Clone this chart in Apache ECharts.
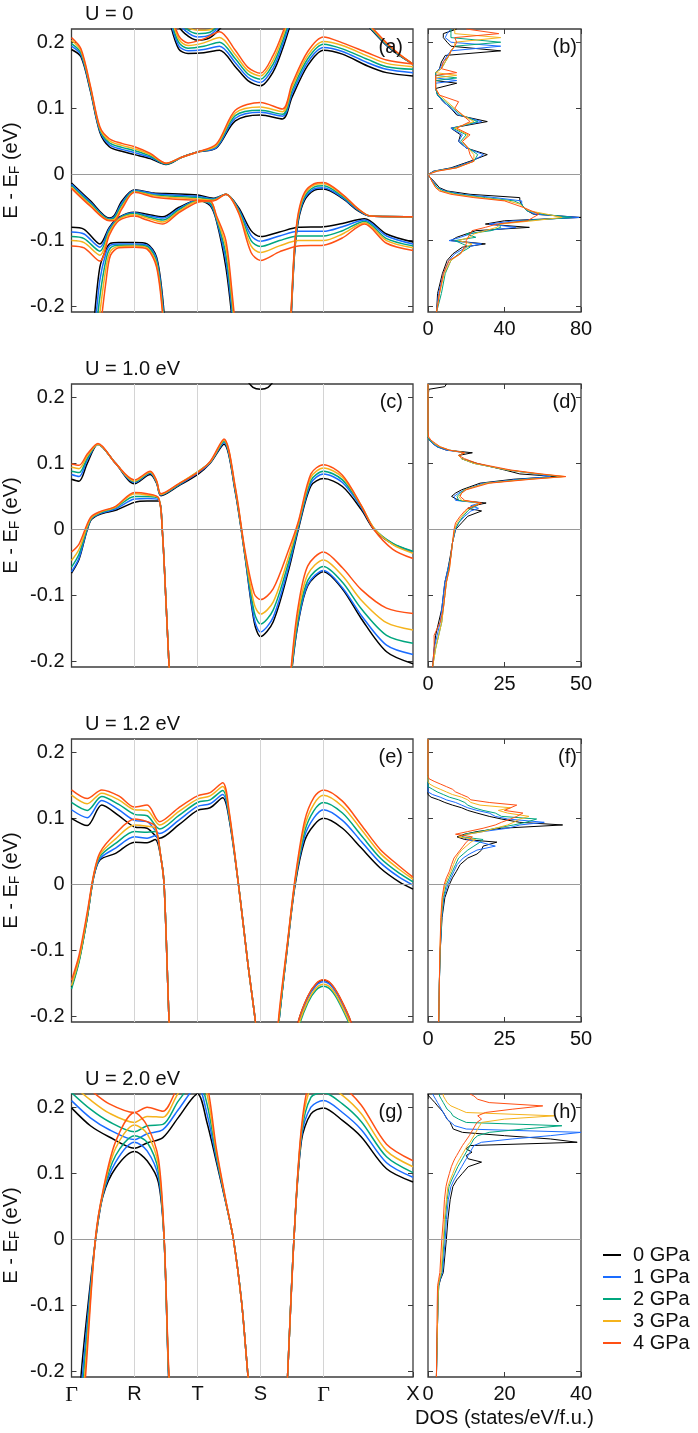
<!DOCTYPE html>
<html>
<head>
<meta charset="utf-8">
<script src="https://cdn.jsdelivr.net/npm/echarts@6/dist/echarts.min.js"></script>
<style>
html, body { margin: 0; padding: 0; background: #fff; }
#chart { width: 698px; height: 1433px; }
</style>
</head>
<body>
<div id="chart"></div>
<script>
// pressures / colours
const pressures = ['0 GPa', '1 GPa', '2 GPa', '3 GPa', '4 GPa']
const colors = ['#000000', '#1a6cff', '#00a67e', '#f5b31c', '#ff5014']

// k-path ticks and energy ticks
const kTicks = [0, 1, 2, 3, 4, 5.42]
const kLabels = ['Γ', 'R', 'T', 'S', 'Γ', 'X']
const eTicks = [-0.2, -0.1, 0, 0.1, 0.2]
const titles = ['U = 0', 'U = 1.0 eV', 'U = 1.2 eV', 'U = 2.0 eV']
const tags = [['(a)', '(b)'], ['(c)', '(d)'], ['(e)', '(f)'], ['(g)', '(h)']]
const dosMax = [80, 50, 50, 40]
const dosStep = [40, 25, 25, 20]

// ---- (a) U = 0 bands: each row = energies for 0..4 GPa ----
const a1_k = [0, 0.15, 0.3, 0.45, 0.6, 0.8, 1.0, 1.25, 1.5, 1.75, 2.0, 2.3, 2.6, 3.0, 3.35, 3.5, 3.75, 4.0, 4.3, 4.7, 5.0, 5.42]
const a1 = [
  [0.189, 0.194, 0.198, 0.203, 0.207], [0.178, 0.181, 0.184, 0.187, 0.190], [0.126, 0.128, 0.130, 0.132, 0.134],
  [0.064, 0.066, 0.068, 0.070, 0.072], [0.042, 0.045, 0.048, 0.051, 0.054], [0.035, 0.038, 0.041, 0.044, 0.047],
  [0.030, 0.033, 0.036, 0.039, 0.042], [0.024, 0.026, 0.028, 0.030, 0.032], [0.015, 0.016, 0.016, 0.017, 0.017],
  [0.026, 0.026, 0.026, 0.026, 0.026], [0.034, 0.034, 0.034, 0.034, 0.034], [0.040, 0.041, 0.043, 0.044, 0.046],
  [0.081, 0.085, 0.089, 0.093, 0.097], [0.090, 0.094, 0.097, 0.102, 0.109], [0.084, 0.088, 0.091, 0.095, 0.099],
  [0.117, 0.122, 0.127, 0.132, 0.137], [0.165, 0.170, 0.175, 0.180, 0.186], [0.188, 0.192, 0.197, 0.201, 0.208],
  [0.182, 0.186, 0.190, 0.195, 0.199], [0.164, 0.169, 0.174, 0.179, 0.184], [0.154, 0.159, 0.163, 0.168, 0.173],
  [0.149, 0.154, 0.159, 0.163, 0.167]
]
const a2_k = [1.55, 1.7, 1.85, 2.1, 2.35, 2.6, 2.8, 3.0, 3.2, 3.35, 3.5]
const a2 = [
  [0.235, 0.240, 0.245, 0.250, 0.255], [0.190, 0.195, 0.200, 0.205, 0.210], [0.183, 0.187, 0.191, 0.195, 0.199],
  [0.184, 0.189, 0.194, 0.199, 0.205], [0.188, 0.194, 0.200, 0.207, 0.216], [0.163, 0.169, 0.175, 0.181, 0.188],
  [0.142, 0.147, 0.152, 0.157, 0.162], [0.134, 0.139, 0.144, 0.149, 0.153], [0.155, 0.161, 0.167, 0.173, 0.180],
  [0.190, 0.196, 0.202, 0.208, 0.214], [0.235, 0.240, 0.245, 0.250, 0.255]
]
const a3_k = [1.6, 1.8, 2.0, 2.2, 2.4]
const a3 = [
  [0.235, 0.240, 0.245, 0.250, 0.255], [0.213, 0.218, 0.222, 0.226, 0.230], [0.203, 0.208, 0.213, 0.218, 0.222],
  [0.207, 0.211, 0.215, 0.219, 0.224], [0.225, 0.230, 0.235, 0.240, 0.245]
]
const a4_k = [4.6, 4.75, 5.0, 5.2, 5.42]
const a4 = [
  [0.235, 0.236, 0.237, 0.238, 0.239], [0.220, 0.221, 0.222, 0.223, 0.224], [0.195, 0.196, 0.197, 0.198, 0.199],
  [0.180, 0.181, 0.181, 0.182, 0.182], [0.167, 0.167, 0.167, 0.167, 0.167]
]
const av1_k = [0, 0.3, 0.6, 0.68, 0.8, 1.0, 1.3, 1.6, 2.0, 2.25, 2.45, 2.65, 2.85, 3.0, 3.3, 3.6, 4.0, 4.3, 4.65, 5.0, 5.42]
const av1 = [
  [-0.013, -0.015, -0.017, -0.019, -0.021], [-0.040, -0.042, -0.044, -0.046, -0.048], [-0.066, -0.067, -0.068, -0.069, -0.070],
  [-0.062, -0.064, -0.066, -0.068, -0.070], [-0.040, -0.043, -0.046, -0.049, -0.052], [-0.023, -0.024, -0.025, -0.026, -0.027],
  [-0.028, -0.029, -0.031, -0.032, -0.034], [-0.029, -0.031, -0.033, -0.035, -0.037], [-0.031, -0.033, -0.035, -0.037, -0.039],
  [-0.036, -0.037, -0.038, -0.039, -0.040], [-0.030, -0.030, -0.030, -0.030, -0.030], [-0.050, -0.052, -0.054, -0.056, -0.058],
  [-0.085, -0.092, -0.100, -0.108, -0.118], [-0.094, -0.101, -0.109, -0.118, -0.130], [-0.087, -0.093, -0.100, -0.108, -0.117],
  [-0.080, -0.086, -0.093, -0.100, -0.108], [-0.079, -0.086, -0.093, -0.100, -0.107], [-0.074, -0.079, -0.085, -0.090, -0.096],
  [-0.067, -0.069, -0.071, -0.073, -0.075], [-0.090, -0.093, -0.097, -0.100, -0.104], [-0.102, -0.105, -0.108, -0.111, -0.115]
]
const av2_k = [0, 0.2, 0.45, 0.6, 0.75, 1.0, 1.2, 1.45, 1.7, 2.0, 2.2, 2.3, 2.45, 2.55, 2.65]
const av2 = [
  [-0.080, -0.087, -0.094, -0.100, -0.108], [-0.083, -0.090, -0.097, -0.103, -0.111], [-0.105, -0.110, -0.116, -0.122, -0.131],
  [-0.080, -0.082, -0.085, -0.088, -0.092], [-0.065, -0.066, -0.067, -0.068, -0.070], [-0.057, -0.058, -0.059, -0.061, -0.063],
  [-0.060, -0.062, -0.064, -0.066, -0.069], [-0.064, -0.066, -0.069, -0.072, -0.075], [-0.050, -0.052, -0.054, -0.056, -0.058],
  [-0.039, -0.039, -0.040, -0.041, -0.042], [-0.047, -0.045, -0.043, -0.041, -0.040], [-0.070, -0.068, -0.066, -0.064, -0.062],
  [-0.140, -0.130, -0.120, -0.110, -0.100], [-0.220, -0.210, -0.200, -0.190, -0.180], [-0.320, -0.310, -0.300, -0.290, -0.280]
]
const av3_k = [0.3, 0.37, 0.45, 0.55, 0.62, 0.75, 1.0, 1.2, 1.35, 1.45, 1.52]
const av3 = [
  [-0.280, -0.310, -0.340, -0.370, -0.400], [-0.208, -0.235, -0.260, -0.285, -0.310], [-0.140, -0.160, -0.185, -0.210, -0.240],
  [-0.113, -0.118, -0.128, -0.140, -0.160], [-0.104, -0.107, -0.111, -0.116, -0.122], [-0.103, -0.105, -0.107, -0.109, -0.111],
  [-0.103, -0.105, -0.107, -0.108, -0.110], [-0.105, -0.107, -0.109, -0.111, -0.113], [-0.125, -0.128, -0.132, -0.136, -0.140],
  [-0.190, -0.197, -0.204, -0.210, -0.216], [-0.280, -0.290, -0.300, -0.310, -0.320]
]
const av4_k = [3.44, 3.49, 3.54, 3.6, 3.7, 3.85, 4.0, 4.3, 4.55, 4.75, 5.42]
const av4 = [
  [-0.300, -0.300, -0.300, -0.300, -0.300], [-0.208, -0.205, -0.203, -0.200, -0.198], [-0.120, -0.117, -0.114, -0.111, -0.108],
  [-0.070, -0.067, -0.064, -0.061, -0.058], [-0.039, -0.036, -0.033, -0.030, -0.027], [-0.024, -0.022, -0.019, -0.016, -0.014],
  [-0.022, -0.020, -0.017, -0.014, -0.012], [-0.036, -0.035, -0.033, -0.031, -0.030], [-0.055, -0.054, -0.053, -0.052, -0.052],
  [-0.063, -0.063, -0.063, -0.063, -0.063], [-0.064, -0.064, -0.064, -0.064, -0.064]
]

// ---- (c) U = 1.0 eV bands ----
const c1_k = [0, 0.12, 0.25, 0.42, 0.7, 1.0, 1.25, 1.35, 1.42, 1.7, 2.0, 2.2, 2.42, 2.6, 2.75, 2.9, 3.0, 3.2, 3.45, 3.6, 3.8, 4.0, 4.3, 4.6, 4.8, 5.1, 5.42]
const c1 = [
  [0.076, 0.083, 0.088, 0.094, 0.099], [0.073, 0.080, 0.086, 0.092, 0.097], [0.100, 0.105, 0.108, 0.111, 0.114],
  [0.129, 0.129, 0.129, 0.129, 0.130], [0.100, 0.100, 0.100, 0.100, 0.100], [0.069, 0.071, 0.072, 0.073, 0.075],
  [0.083, 0.085, 0.086, 0.087, 0.088], [0.070, 0.071, 0.072, 0.073, 0.074], [0.051, 0.052, 0.053, 0.053, 0.054],
  [0.066, 0.067, 0.068, 0.069, 0.069], [0.083, 0.085, 0.087, 0.087, 0.086], [0.100, 0.101, 0.102, 0.102, 0.103],
  [0.129, 0.131, 0.133, 0.135, 0.137], [0.056, 0.058, 0.060, 0.062, 0.064], [-0.038, -0.037, -0.035, -0.033, -0.030],
  [-0.140, -0.135, -0.125, -0.113, -0.097], [-0.162, -0.155, -0.143, -0.128, -0.106], [-0.140, -0.133, -0.122, -0.110, -0.090],
  [-0.060, -0.055, -0.048, -0.040, -0.030], [0.000, 0.003, 0.006, 0.009, 0.012], [0.066, 0.070, 0.074, 0.079, 0.084],
  [0.077, 0.084, 0.088, 0.093, 0.098], [0.065, 0.071, 0.075, 0.079, 0.082], [0.030, 0.033, 0.035, 0.036, 0.036],
  [0.000, 0.001, 0.002, 0.002, 0.000], [-0.022, -0.022, -0.021, -0.023, -0.030], [-0.034, -0.034, -0.033, -0.036, -0.044]
]
const c2_k = [0, 0.12, 0.3, 0.45, 0.7, 1.0, 1.2, 1.38, 1.44, 1.5, 1.55, 1.6]
const c2 = [
  [-0.066, -0.064, -0.057, -0.047, -0.034], [-0.045, -0.043, -0.037, -0.030, -0.022], [0.013, 0.014, 0.015, 0.016, 0.018],
  [0.023, 0.024, 0.025, 0.026, 0.027], [0.029, 0.031, 0.033, 0.034, 0.035], [0.041, 0.046, 0.050, 0.054, 0.056],
  [0.043, 0.047, 0.050, 0.052, 0.054], [0.043, 0.045, 0.047, 0.048, 0.048], [0.000, 0.000, 0.000, 0.000, 0.000],
  [-0.110, -0.110, -0.110, -0.110, -0.110], [-0.210, -0.210, -0.210, -0.210, -0.210], [-0.300, -0.300, -0.300, -0.300, -0.300]
]
const c3_k = [3.42, 3.5, 3.6, 3.75, 4.0, 4.3, 4.6, 5.0, 5.42]
const c3 = [
  [-0.300, -0.300, -0.300, -0.300, -0.300], [-0.210, -0.208, -0.205, -0.200, -0.195], [-0.140, -0.138, -0.133, -0.125, -0.115],
  [-0.085, -0.083, -0.077, -0.068, -0.055], [-0.064, -0.062, -0.056, -0.046, -0.034], [-0.090, -0.088, -0.080, -0.070, -0.058],
  [-0.135, -0.130, -0.120, -0.107, -0.091], [-0.185, -0.175, -0.160, -0.141, -0.119], [-0.203, -0.189, -0.172, -0.152, -0.127]
]
const c4_k = [2.75, 2.88, 3.0, 3.12, 3.25]
const c4 = [
  [0.230, 0.240, 0.250, 0.260, 0.270], [0.215, 0.235, 0.245, 0.255, 0.265], [0.212, 0.232, 0.242, 0.252, 0.262],
  [0.215, 0.235, 0.245, 0.255, 0.265], [0.230, 0.240, 0.250, 0.260, 0.270]
]

// ---- (e) U = 1.2 eV bands ----
const e1_k = [0, 0.25, 0.48, 0.75, 1.0, 1.2, 1.4, 1.7, 2.0, 2.2, 2.4, 2.5, 2.65, 2.8, 2.92, 3.0]
const e1 = [
  [0.100, 0.113, 0.124, 0.135, 0.143], [0.089, 0.101, 0.112, 0.122, 0.130], [0.120, 0.127, 0.133, 0.138, 0.143],
  [0.104, 0.113, 0.121, 0.128, 0.134], [0.087, 0.097, 0.106, 0.113, 0.117], [0.085, 0.095, 0.104, 0.112, 0.120],
  [0.070, 0.077, 0.084, 0.090, 0.095], [0.090, 0.097, 0.104, 0.110, 0.116], [0.112, 0.118, 0.124, 0.129, 0.134],
  [0.116, 0.122, 0.128, 0.134, 0.139], [0.131, 0.136, 0.142, 0.148, 0.154], [0.100, 0.103, 0.106, 0.109, 0.112],
  [0.000, 0.000, 0.000, 0.000, 0.000], [-0.120, -0.120, -0.120, -0.120, -0.120], [-0.208, -0.208, -0.208, -0.208, -0.208],
  [-0.280, -0.280, -0.280, -0.280, -0.280]
]
const e2_k = [0, 0.12, 0.25, 0.35, 0.45, 0.7, 1.0, 1.2, 1.33, 1.42, 1.47, 1.55, 1.6]
const e2 = [
  [-0.155, -0.152, -0.158, -0.153, -0.145], [-0.115, -0.113, -0.117, -0.113, -0.107], [-0.050, -0.048, -0.050, -0.046, -0.042],
  [0.010, 0.011, 0.012, 0.013, 0.014], [0.037, 0.039, 0.042, 0.045, 0.048], [0.047, 0.055, 0.062, 0.069, 0.077],
  [0.064, 0.072, 0.080, 0.090, 0.099], [0.063, 0.070, 0.079, 0.088, 0.095], [0.068, 0.074, 0.080, 0.085, 0.088],
  [0.040, 0.040, 0.040, 0.040, 0.040], [0.000, 0.000, 0.000, 0.000, 0.000], [-0.210, -0.210, -0.210, -0.210, -0.210],
  [-0.300, -0.300, -0.300, -0.300, -0.300]
]
const e3_k = [3.2, 3.3, 3.42, 3.55, 3.7, 3.85, 4.0, 4.3, 4.6, 4.9, 5.2, 5.42]
const e3 = [
  [-0.300, -0.300, -0.300, -0.300, -0.300], [-0.200, -0.200, -0.200, -0.195, -0.190], [-0.100, -0.099, -0.098, -0.096, -0.094],
  [0.000, 0.003, 0.005, 0.007, 0.010], [0.066, 0.073, 0.080, 0.088, 0.096], [0.090, 0.101, 0.112, 0.122, 0.132],
  [0.100, 0.113, 0.124, 0.135, 0.143], [0.085, 0.097, 0.108, 0.118, 0.126], [0.055, 0.065, 0.074, 0.083, 0.090],
  [0.025, 0.033, 0.040, 0.047, 0.053], [0.004, 0.011, 0.017, 0.023, 0.028], [-0.007, -0.001, 0.004, 0.008, 0.011]
]
const e4_k = [3.5, 3.6, 3.75, 3.88, 4.0, 4.12, 4.25, 4.44, 4.55]
const e4 = [
  [-0.260, -0.260, -0.270, -0.265, -0.260], [-0.208, -0.210, -0.218, -0.214, -0.207], [-0.170, -0.172, -0.179, -0.176, -0.169],
  [-0.151, -0.153, -0.160, -0.157, -0.150], [-0.145, -0.147, -0.154, -0.151, -0.144], [-0.151, -0.153, -0.160, -0.157, -0.150],
  [-0.170, -0.172, -0.179, -0.176, -0.169], [-0.210, -0.212, -0.219, -0.216, -0.209], [-0.260, -0.260, -0.270, -0.265, -0.260]
]

// ---- (g) U = 2.0 eV bands ----
const g1_k = [0, 0.3, 0.6, 1.0, 1.2, 1.45, 1.7, 2.0, 2.15, 2.3, 2.45, 2.57, 2.7, 2.8, 2.9]
const g1 = [
  [0.199, 0.210, 0.222, 0.235, 0.250], [0.172, 0.184, 0.197, 0.211, 0.226], [0.155, 0.166, 0.178, 0.191, 0.205],
  [0.138, 0.151, 0.163, 0.177, 0.192], [0.146, 0.160, 0.172, 0.186, 0.200], [0.154, 0.166, 0.174, 0.185, 0.194],
  [0.185, 0.197, 0.210, 0.222, 0.232], [0.220, 0.232, 0.242, 0.252, 0.262], [0.177, 0.190, 0.205, 0.220, 0.235],
  [0.117, 0.122, 0.127, 0.132, 0.137], [0.055, 0.056, 0.057, 0.058, 0.059], [0.000, 0.000, 0.000, 0.000, 0.000],
  [-0.095, -0.095, -0.095, -0.095, -0.095], [-0.205, -0.205, -0.205, -0.205, -0.205], [-0.300, -0.300, -0.300, -0.300, -0.300]
]
const g2_k = [0.1, 0.15, 0.25, 0.38, 0.5, 0.7, 1.0, 1.2, 1.38, 1.47, 1.54, 1.6]
const g2 = [
  [-0.290, -0.320, -0.350, -0.370, -0.400], [-0.208, -0.235, -0.260, -0.285, -0.310], [-0.110, -0.125, -0.140, -0.155, -0.170],
  [-0.002, -0.001, 0.000, 0.001, 0.002], [0.066, 0.068, 0.070, 0.072, 0.074], [0.108, 0.117, 0.127, 0.138, 0.148],
  [0.133, 0.147, 0.157, 0.173, 0.192], [0.119, 0.134, 0.147, 0.160, 0.172], [0.086, 0.094, 0.103, 0.112, 0.122],
  [0.000, 0.000, 0.000, 0.002, 0.004], [-0.205, -0.202, -0.199, -0.195, -0.190], [-0.300, -0.300, -0.300, -0.300, -0.300]
]
const g3_k = [3.38, 3.43, 3.53, 3.65, 3.8, 4.0, 4.3, 4.6, 5.0, 5.42]
const g3 = [
  [-0.300, -0.300, -0.300, -0.300, -0.300], [-0.205, -0.205, -0.205, -0.205, -0.205], [0.000, 0.000, 0.000, 0.000, 0.000],
  [0.150, 0.155, 0.160, 0.165, 0.170], [0.190, 0.200, 0.215, 0.230, 0.245], [0.199, 0.210, 0.222, 0.235, 0.250],
  [0.180, 0.192, 0.205, 0.218, 0.232], [0.155, 0.166, 0.178, 0.190, 0.203], [0.107, 0.116, 0.125, 0.134, 0.144],
  [0.087, 0.094, 0.101, 0.110, 0.119]
]

// ---- DOS: energy grids and one DOS array per pressure ----
const dosE_b = [-0.208, -0.18, -0.15, -0.13, -0.12, -0.11, -0.105, -0.1, -0.095, -0.09, -0.085, -0.08, -0.075, -0.07, -0.065, -0.06, -0.055, -0.05, -0.045, -0.04, -0.035, -0.03, -0.025, -0.02, -0.01, -0.004, 0, 0.005, 0.01, 0.02, 0.03, 0.04, 0.05, 0.06, 0.07, 0.08, 0.09, 0.1, 0.11, 0.12, 0.13, 0.138, 0.142, 0.146, 0.15, 0.154, 0.16, 0.17, 0.18, 0.187, 0.194, 0.2, 0.207, 0.213, 0.22]
const dos_b0 = [4.5, 5, 7.5, 10, 13, 18, 30, 12, 15, 20, 25, 53, 30, 40, 80, 55, 52, 50, 49, 48, 48, 22, 10, 6, 3, 1, 0, 3, 12, 22, 31, 20, 16, 17, 12, 31, 15, 12, 8, 5, 4, 15, 4, 4, 4, 4, 6, 7, 9, 38, 12, 10, 8, 8, 15]
const dos_b1 = [4.5, 5.5, 8, 11, 14, 20, 28, 11, 17, 22, 30, 46, 32, 45, 79, 56, 52, 50, 49, 49, 35, 18, 9, 5, 2.5, 1, 0, 3, 13, 23, 29, 20, 16, 18, 12, 28, 16, 12, 8, 5, 4, 4, 15, 4, 4, 4, 6, 8, 10, 12, 38, 12, 9, 10, 12]
const dos_b2 = [4.5, 7, 9, 12, 16, 22, 18, 14, 25, 20, 33, 38, 37, 50, 75, 60, 52, 50, 49, 45, 30, 16, 8, 5, 2, 1, 0, 4, 14, 24, 26, 21, 17, 20, 13, 26, 17, 13, 9, 5, 4, 4, 4, 15, 4, 4, 7, 9, 11, 12, 14, 38, 12, 12, 12]
const dos_b3 = [4.5, 6, 8.5, 12, 17, 20, 23, 16, 22, 24, 30, 36, 38, 55, 70, 62, 53, 50, 48, 42, 27, 14, 7, 4, 2, 1, 0, 4, 15, 24, 24, 21, 18, 21, 14, 24, 18, 14, 10, 6, 4, 4, 4, 4, 15, 4, 7, 9, 11, 12, 14, 14, 38, 14, 14]
const dos_b4 = [4.5, 6, 8, 11, 17, 19, 20, 20, 21, 22, 23, 30, 36, 52, 55, 58, 54, 50, 45, 40, 24, 12, 6, 4, 2, 1, 0, 5, 15, 24, 22, 21, 18, 22, 15, 22, 18, 14, 16, 6, 4, 4, 4, 4, 4, 15, 7, 8, 11, 12, 14, 15, 14, 37, 20]

const dosE_d = [-0.208, -0.18, -0.16, -0.14, -0.12, -0.1, -0.08, -0.06, -0.04, -0.02, 0, 0.01, 0.02, 0.028, 0.032, 0.036, 0.04, 0.044, 0.05, 0.055, 0.06, 0.07, 0.076, 0.08, 0.084, 0.09, 0.1, 0.107, 0.112, 0.116, 0.12, 0.125, 0.13, 0.135, 0.14, 0.15, 0.2, 0.212, 0.216, 0.22]
const dos_d0 = [1.5, 2, 2.5, 3.5, 4.5, 5, 5.5, 6.5, 7.3, 8, 9, 11, 13, 17.5, 13, 15, 19, 10, 7.7, 9, 11, 17, 28, 42, 30, 25, 16, 11, 10, 14.5, 6, 3, 1.5, 0.5, 0, 0, 0, 0.3, 5.5, 6]
const dos_d1 = [1.5, 2, 3, 4, 4.5, 5, 5.5, 6.5, 7.5, 8, 9, 10, 12, 14, 16.5, 14, 17, 9, 8.5, 10, 12, 18, 30, 40, 35, 26, 15, 11, 10, 12, 6, 3, 1.5, 0.5, 0, 0, 0, 0, 0, 0]
const dos_d2 = [1.5, 2.5, 3.5, 4.5, 5, 5.5, 6, 6.8, 7.5, 8, 8.8, 10, 11.5, 13, 14, 16, 17, 10, 9.5, 10.5, 12, 19, 32, 44, 36, 26, 15, 11, 10, 12, 7, 3.5, 2, 0.5, 0, 0, 0, 0, 0, 0]
const dos_d3 = [1.5, 2.5, 3.5, 4.5, 5, 5.5, 6, 7, 7.5, 8, 8.7, 9.5, 11, 12.5, 13.5, 15, 17, 11, 10, 11, 12, 19, 33, 45, 36, 26, 15, 11, 10, 12, 7, 4, 2, 1, 0, 0, 0, 0, 0, 0]
const dos_d4 = [1.5, 2, 2, 4, 5, 5.5, 6, 7, 7.5, 8, 8.5, 9, 10.5, 12, 13, 15.5, 17.5, 12, 10.5, 11, 12.5, 20, 34, 45, 37, 27, 16, 12, 10, 12, 7, 4, 2.5, 1, 0.2, 0, 0, 0, 0, 0]

const dosE_f = [-0.208, -0.15, -0.1, -0.05, -0.02, 0, 0.01, 0.02, 0.03, 0.04, 0.046, 0.052, 0.058, 0.064, 0.068, 0.072, 0.076, 0.08, 0.085, 0.09, 0.094, 0.099, 0.103, 0.108, 0.112, 0.116, 0.12, 0.124, 0.128, 0.132, 0.136, 0.14, 0.144, 0.148, 0.152, 0.156, 0.16, 0.165, 0.22]
const dos_f0 = [3.5, 3.7, 4, 4.6, 5.5, 7, 8, 9.3, 10.5, 13, 16, 17.5, 18, 22.5, 12, 9.5, 12, 16, 24, 44, 30, 24, 20, 16, 13, 11, 8, 5.5, 3.5, 1, 0, 0, 0, 0, 0, 0, 0, 0, 0]
const dos_f1 = [3.5, 3.7, 4, 4.5, 5.2, 6.5, 7.5, 8.5, 9.5, 11.5, 13.5, 16, 22, 17, 13, 11, 13, 18, 26, 30, 38, 26, 22, 20, 16, 13, 11, 9, 6, 4, 1.5, 0, 0, 0, 0, 0, 0, 0, 0]
const dos_f2 = [3.5, 3.7, 4, 4.4, 5, 6, 7, 8, 9, 10, 11.5, 13, 15, 17, 18, 11, 12, 17, 22, 28, 32, 35.5, 24, 22, 18, 15, 13, 12, 10, 7, 5, 3, 1.5, 0, 0, 0, 0, 0, 0]
const dos_f3 = [3.5, 3.7, 3.9, 4.3, 4.8, 5.6, 6.5, 7.5, 8.3, 9.2, 10, 11, 12.5, 14, 15.5, 10, 13, 18, 22, 26, 28, 30, 33, 26, 23, 27, 17, 14, 13, 11, 8, 6, 4, 2, 0.5, 0, 0, 0, 0]
const dos_f4 = [3.5, 3.7, 3.9, 4.2, 4.6, 5.3, 6, 7, 7.7, 8.5, 9.5, 10.5, 11.5, 12.5, 13.5, 14.5, 9, 13, 18, 22, 24, 27, 29, 31, 25, 27, 29, 20, 14, 13, 11, 9, 8, 6, 4, 2, 0.3, 0, 0]

const dosE_h = [-0.208, -0.15, -0.1, -0.07, -0.06, -0.05, 0, 0.03, 0.06, 0.08, 0.09, 0.1, 0.11, 0.117, 0.122, 0.127, 0.132, 0.137, 0.142, 0.147, 0.152, 0.157, 0.162, 0.167, 0.172, 0.177, 0.182, 0.187, 0.192, 0.197, 0.202, 0.207, 0.212, 0.217, 0.22]
const dos_h0 = [2.2, 2.4, 2.6, 2.8, 3.3, 4, 4.8, 5.2, 5.8, 6.5, 7.5, 9, 10.5, 14, 10.5, 10, 11.5, 10, 11, 39, 32, 20, 9, 6.6, 6.2, 5.8, 5, 4.5, 4, 3.3, 2.5, 1.8, 1, 0.2, 0]
const dos_h1 = [2.2, 2.4, 2.6, 2.8, 3.2, 3.8, 4.5, 4.8, 5.3, 6, 6.8, 7.8, 8.8, 9.5, 10, 10.5, 11, 11.5, 12, 14, 22, 32, 40, 10, 7, 6, 5, 4.5, 4, 3.5, 3, 2.5, 2, 1.5, 1.2]
const dos_h2 = [2.2, 2.4, 2.6, 2.8, 3.1, 3.6, 4.2, 4.5, 5, 5.5, 6.2, 7, 7.8, 8.5, 9, 9.5, 10, 10.5, 11, 11.5, 12, 13, 16, 25, 35, 10, 8, 6.5, 6, 5, 4.5, 4, 3.5, 3, 3]
const dos_h3 = [2.2, 2.4, 2.6, 2.7, 3, 3.4, 4, 4.3, 4.8, 5.2, 5.8, 6.5, 7.2, 7.8, 8.3, 8.8, 9.3, 9.8, 10.3, 11, 11.5, 12, 12.5, 13, 13.5, 14, 20, 33, 10, 8, 6, 5, 4.5, 4, 4]
const dos_h4 = [2.2, 2.3, 2.4, 2.5, 2.8, 3.1, 3.6, 4, 4.3, 4.7, 5.1, 5.6, 6.1, 6.6, 7, 7.5, 8, 8.5, 9, 9.6, 10.2, 10.8, 11.3, 11.8, 12.3, 12.8, 14, 13, 15, 22, 30, 16, 13, 12, 11]

const bandSets = [
  [[a1_k, a1], [a2_k, a2], [a3_k, a3], [a4_k, a4], [av1_k, av1], [av2_k, av2], [av3_k, av3], [av4_k, av4]],
  [[c1_k, c1], [c2_k, c2], [c3_k, c3], [c4_k, c4]],
  [[e1_k, e1], [e2_k, e2], [e3_k, e3], [e4_k, e4]],
  [[g1_k, g1], [g2_k, g2], [g3_k, g3]]
]
const dosSets = [
  [dosE_b, [dos_b0, dos_b1, dos_b2, dos_b3, dos_b4]],
  [dosE_d, [dos_d0, dos_d1, dos_d2, dos_d3, dos_d4]],
  [dosE_f, [dos_f0, dos_f1, dos_f2, dos_f3, dos_f4]],
  [dosE_h, [dos_h0, dos_h1, dos_h2, dos_h3, dos_h4]]
]

const axisCol = '#3c3c3c'
const txtCol = '#111'
const rowTop = [29, 384, 739, 1094]
const fs = 20

const grids = [], xAxes = [], yAxes = [], series = [], titleList = []

const eFmt = v => (v === 0 ? '0' : v.toFixed(1))
function yAx(gi, pos, labels, named) {
  return {
    gridIndex: gi, type: 'value', position: pos, min: -0.208, max: 0.22,
    axisLine: { show: false, onZero: false }, splitLine: { show: false },
    axisTick: { show: true, inside: true, length: 5, customValues: eTicks, lineStyle: { color: axisCol } },
    axisLabel: { show: labels, customValues: eTicks, formatter: eFmt, margin: 7, fontSize: fs, color: txtCol },
    name: named ? 'E - E{s|F} (eV)' : '', nameLocation: 'middle', nameRotate: 90, nameGap: 49,
    nameTextStyle: { fontSize: fs, color: txtCol, rich: { s: { fontSize: 14, padding: [9, 0, 0, 0] } } }
  }
}
function guides(xi, yi, withK) {
  const d = []
  if (withK) [1, 2, 3, 4].forEach(k => d.push({ xAxis: k, lineStyle: { color: '#d4d4d4', width: 1, type: 'solid' } }))
  d.push({ yAxis: 0, lineStyle: { color: '#9a9a9a', width: 1, type: 'solid' } })
  return { type: 'line', xAxisIndex: xi, yAxisIndex: yi, data: [], silent: true, z: 1,
    markLine: { silent: true, symbol: 'none', label: { show: false }, data: d } }
}

for (let r = 0; r < 4; r++) {
  const top = rowTop[r]
  grids.push({ left: 71, top, width: 342, height: 283, show: true, borderColor: axisCol, borderWidth: 1.3 })
  grids.push({ left: 428, top, width: 153, height: 283, show: true, borderColor: axisCol, borderWidth: 1.3 })

  xAxes.push({
    gridIndex: 2 * r, type: 'value', min: 0, max: 5.42,
    axisLine: { show: false, onZero: false }, splitLine: { show: false },
    axisTick: { show: r === 3, inside: true, length: 5, customValues: kTicks, lineStyle: { color: axisCol } },
    axisLabel: {
      show: r === 3, customValues: kTicks, margin: 7, fontSize: fs, color: txtCol,
      formatter: v => { const s = kLabels[kTicks.indexOf(v)]; return s === 'Γ' ? '{g|Γ}' : s },
      rich: { g: { fontFamily: 'Liberation Serif', fontSize: 22, color: txtCol } }
    }
  })
  xAxes.push({
    gridIndex: 2 * r + 1, type: 'value', min: 0, max: dosMax[r], interval: dosStep[r],
    axisLine: { show: false, onZero: false }, splitLine: { show: false },
    axisTick: { inside: true, length: 5, lineStyle: { color: axisCol } },
    axisLabel: { margin: 7, fontSize: fs, color: txtCol },
    name: r === 3 ? 'DOS (states/eV/f.u.)' : '', nameLocation: 'middle', nameGap: 31,
    nameTextStyle: { fontSize: fs, color: txtCol }
  })
  xAxes.push({
    gridIndex: 2 * r + 1, type: 'value', position: 'top', min: 0, max: dosMax[r], interval: dosStep[r],
    axisLine: { show: false, onZero: false }, splitLine: { show: false },
    axisTick: { inside: true, length: 5, lineStyle: { color: axisCol } }, axisLabel: { show: false }
  })
  yAxes.push(yAx(2 * r, 'left', true, true))
  yAxes.push(yAx(2 * r, 'right', false, false))
  yAxes.push(yAx(2 * r + 1, 'left', false, false))
  yAxes.push(yAx(2 * r + 1, 'right', false, false))

  const bx = 3 * r, by = 4 * r, dx = 3 * r + 1, dy = 4 * r + 2
  series.push(guides(bx, by, true))
  series.push(guides(dx, dy, false))

  for (let p = 0; p < 5; p++) {
    bandSets[r].forEach(([k, rows]) => {
      series.push({
        type: 'line', name: pressures[p], xAxisIndex: bx, yAxisIndex: by,
        data: k.map((x, i) => [x, rows[i][p]]),
        smooth: 0.3, symbol: 'none', clip: true, z: 3,
        lineStyle: { color: colors[p], width: 1.5 }, itemStyle: { color: colors[p] }
      })
    })
    const [E, arrs] = dosSets[r]
    series.push({
      type: 'line', name: pressures[p], xAxisIndex: dx, yAxisIndex: dy,
      data: E.map((e, i) => [arrs[p][i], e]),
      symbol: 'none', clip: true, z: 3,
      lineStyle: { color: colors[p], width: 1 }, itemStyle: { color: colors[p] }
    })
  }

  titleList.push({ text: titles[r], left: 80, top: top - 30, textStyle: { fontSize: fs, fontWeight: 'normal', color: txtCol } })
  titleList.push({ text: tags[r][0], right: 290, top: top + 3, textStyle: { fontSize: fs, fontWeight: 'normal', color: txtCol } })
  titleList.push({ text: tags[r][1], right: 116, top: top + 3, textStyle: { fontSize: fs, fontWeight: 'normal', color: txtCol } })
}

const chart = echarts.init(document.getElementById('chart'), null, { renderer: 'canvas' })
chart.setOption({
  animation: false,
  backgroundColor: '#fff',
  textStyle: { fontFamily: 'Liberation Sans, Arial, sans-serif' },
  title: titleList,
  legend: {
    data: pressures, orient: 'vertical', left: 598, top: 1240,
    icon: 'rect', itemWidth: 18, itemHeight: 2, itemGap: 2,
    textStyle: { fontSize: fs, color: txtCol, padding: [0, 0, 0, 7] }
  },
  grid: grids,
  xAxis: xAxes,
  yAxis: yAxes,
  series
})
</script>
</body>
</html>
